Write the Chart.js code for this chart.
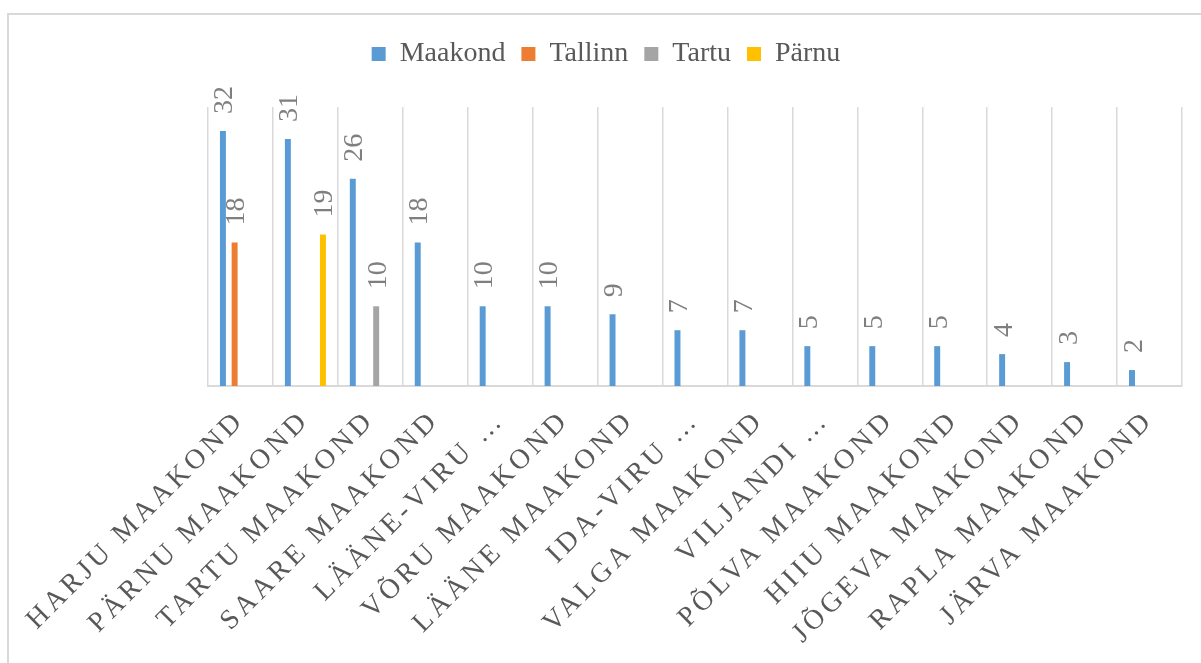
<!DOCTYPE html>
<html lang="et">
<head>
  <meta charset="UTF-8">
  <title>Maakonnad</title>
  <style>
    body {
      margin: 0;
      background: #ffffff;
      overflow: hidden;
    }

    .frame {
      position: absolute;
      left: 7px;
      top: 13px;
      right: 0;
      bottom: 0;
      border-top: 2px solid #d9d9d9;
      border-left: 2px solid #d9d9d9;
    }

    .frame canvas {
      display: block;
    }
  </style>
</head>
<body>
  <div class="frame">
    <canvas id="chart" width="1192" height="648"></canvas>
  </div>

  <script src="https://cdn.jsdelivr.net/npm/chart.js"></script>
  <script>
    // andmed
    const labels = ['HARJU MAAKOND', 'PÄRNU MAAKOND', 'TARTU MAAKOND', 'SAARE MAAKOND',
      'LÄÄNE-VIRU …', 'VÕRU MAAKOND', 'LÄÄNE MAAKOND', 'IDA-VIRU …', 'VALGA MAAKOND',
      'VILJANDI …', 'PÕLVA MAAKOND', 'HIIU MAAKOND', 'JÕGEVA MAAKOND', 'RAPLA MAAKOND',
      'JÄRVA MAAKOND'];
    const maakond = [32, 31, 26, 18, 10, 10, 9, 7, 7, 5, 5, 5, 4, 3, 2];
    const tallinn = [18, null, null, null, null, null, null, null, null, null, null, null, null, null, null];
    const tartu = [null, null, 10, null, null, null, null, null, null, null, null, null, null, null, null];
    const parnu = [null, 19, null, null, null, null, null, null, null, null, null, null, null, null, null];

    const serif = '"Liberation Serif", "Times New Roman", serif';

    // väärtused tulpade kohale, püsti
    const barLabels = {
      id: 'barLabels',
      afterDatasetsDraw(chart) {
        const ctx = chart.ctx;
        ctx.save();
        ctx.font = '28px ' + serif;
        ctx.fillStyle = '#7f7f7f';
        ctx.textAlign = 'left';
        ctx.textBaseline = 'alphabetic';
        chart.data.datasets.forEach((ds, i) => {
          chart.getDatasetMeta(i).data.forEach((bar, j) => {
            const v = ds.data[j];
            if (v == null) return;
            ctx.save();
            ctx.translate(bar.x, bar.y - 17);
            ctx.rotate(-Math.PI / 2);
            ctx.fillText(String(v), 0, 9.5);
            ctx.restore();
          });
        });
        ctx.restore();
      }
    };

    // hõredam tähevahe x-telje siltidele
    const spacedTicks = {
      id: 'spacedTicks',
      beforeDraw(chart) {
        const x = chart.scales.x;
        if (x.drawLabels._spaced) return;
        const orig = x.drawLabels;
        const wrapped = function (area) {
          this.ctx.save();
          this.ctx.letterSpacing = '4px';
          orig.call(this, area);
          this.ctx.restore();
        };
        wrapped._spaced = true;
        x.drawLabels = wrapped;
      }
    };

    const bar = (label, data, color) => ({
      label: label,
      data: data,
      backgroundColor: color,
      xAxisID: 'x',
      categoryPercentage: 0.72,
      barPercentage: 0.51
    });

    new Chart(document.getElementById('chart'), {
      type: 'bar',
      data: {
        labels: labels,
        datasets: [
          bar('Maakond', maakond, '#5b9bd5'),
          bar('Tallinn', tallinn, '#ed7d31'),
          bar('Tartu', tartu, '#a5a5a5'),
          bar('Pärnu', parnu, '#ffc000')
        ]
      },
      options: {
        responsive: false,
        animation: false,
        layout: {
          padding: { left: 21, right: 19, top: 9, bottom: 0 }
        },
        plugins: {
          legend: {
            position: 'top',
            labels: {
              boxWidth: 14,
              boxHeight: 14,
              padding: 16,
              color: '#595959',
              font: { family: serif, size: 28 }
            }
          },
          tooltip: { enabled: false }
        },
        scales: {
          x: {
            position: 'bottom',
            grid: {
              offset: true,
              color: '#d9d9d9',
              lineWidth: 1.5,
              drawTicks: false
            },
            border: { display: true, color: '#d9d9d9', width: 2 },
            ticks: {
              autoSkip: false,
              minRotation: 45,
              maxRotation: 45,
              padding: 18,
              color: '#595959',
              font: { family: serif, size: 28 }
            },
            afterFit(s) { s.height = 277; }
          },
          xTop: {
            type: 'category',
            axis: 'x',
            position: 'top',
            grid: { display: false },
            border: { display: false },
            ticks: { display: false },
            afterFit(s) { s.height = 29; }
          },
          y: {
            min: 0,
            max: 35,
            grid: { display: false },
            border: { display: false },
            ticks: { display: false },
            afterFit(s) { s.width = 178; }
          }
        }
      },
      plugins: [barLabels, spacedTicks]
    });
  </script>
</body>
</html>
